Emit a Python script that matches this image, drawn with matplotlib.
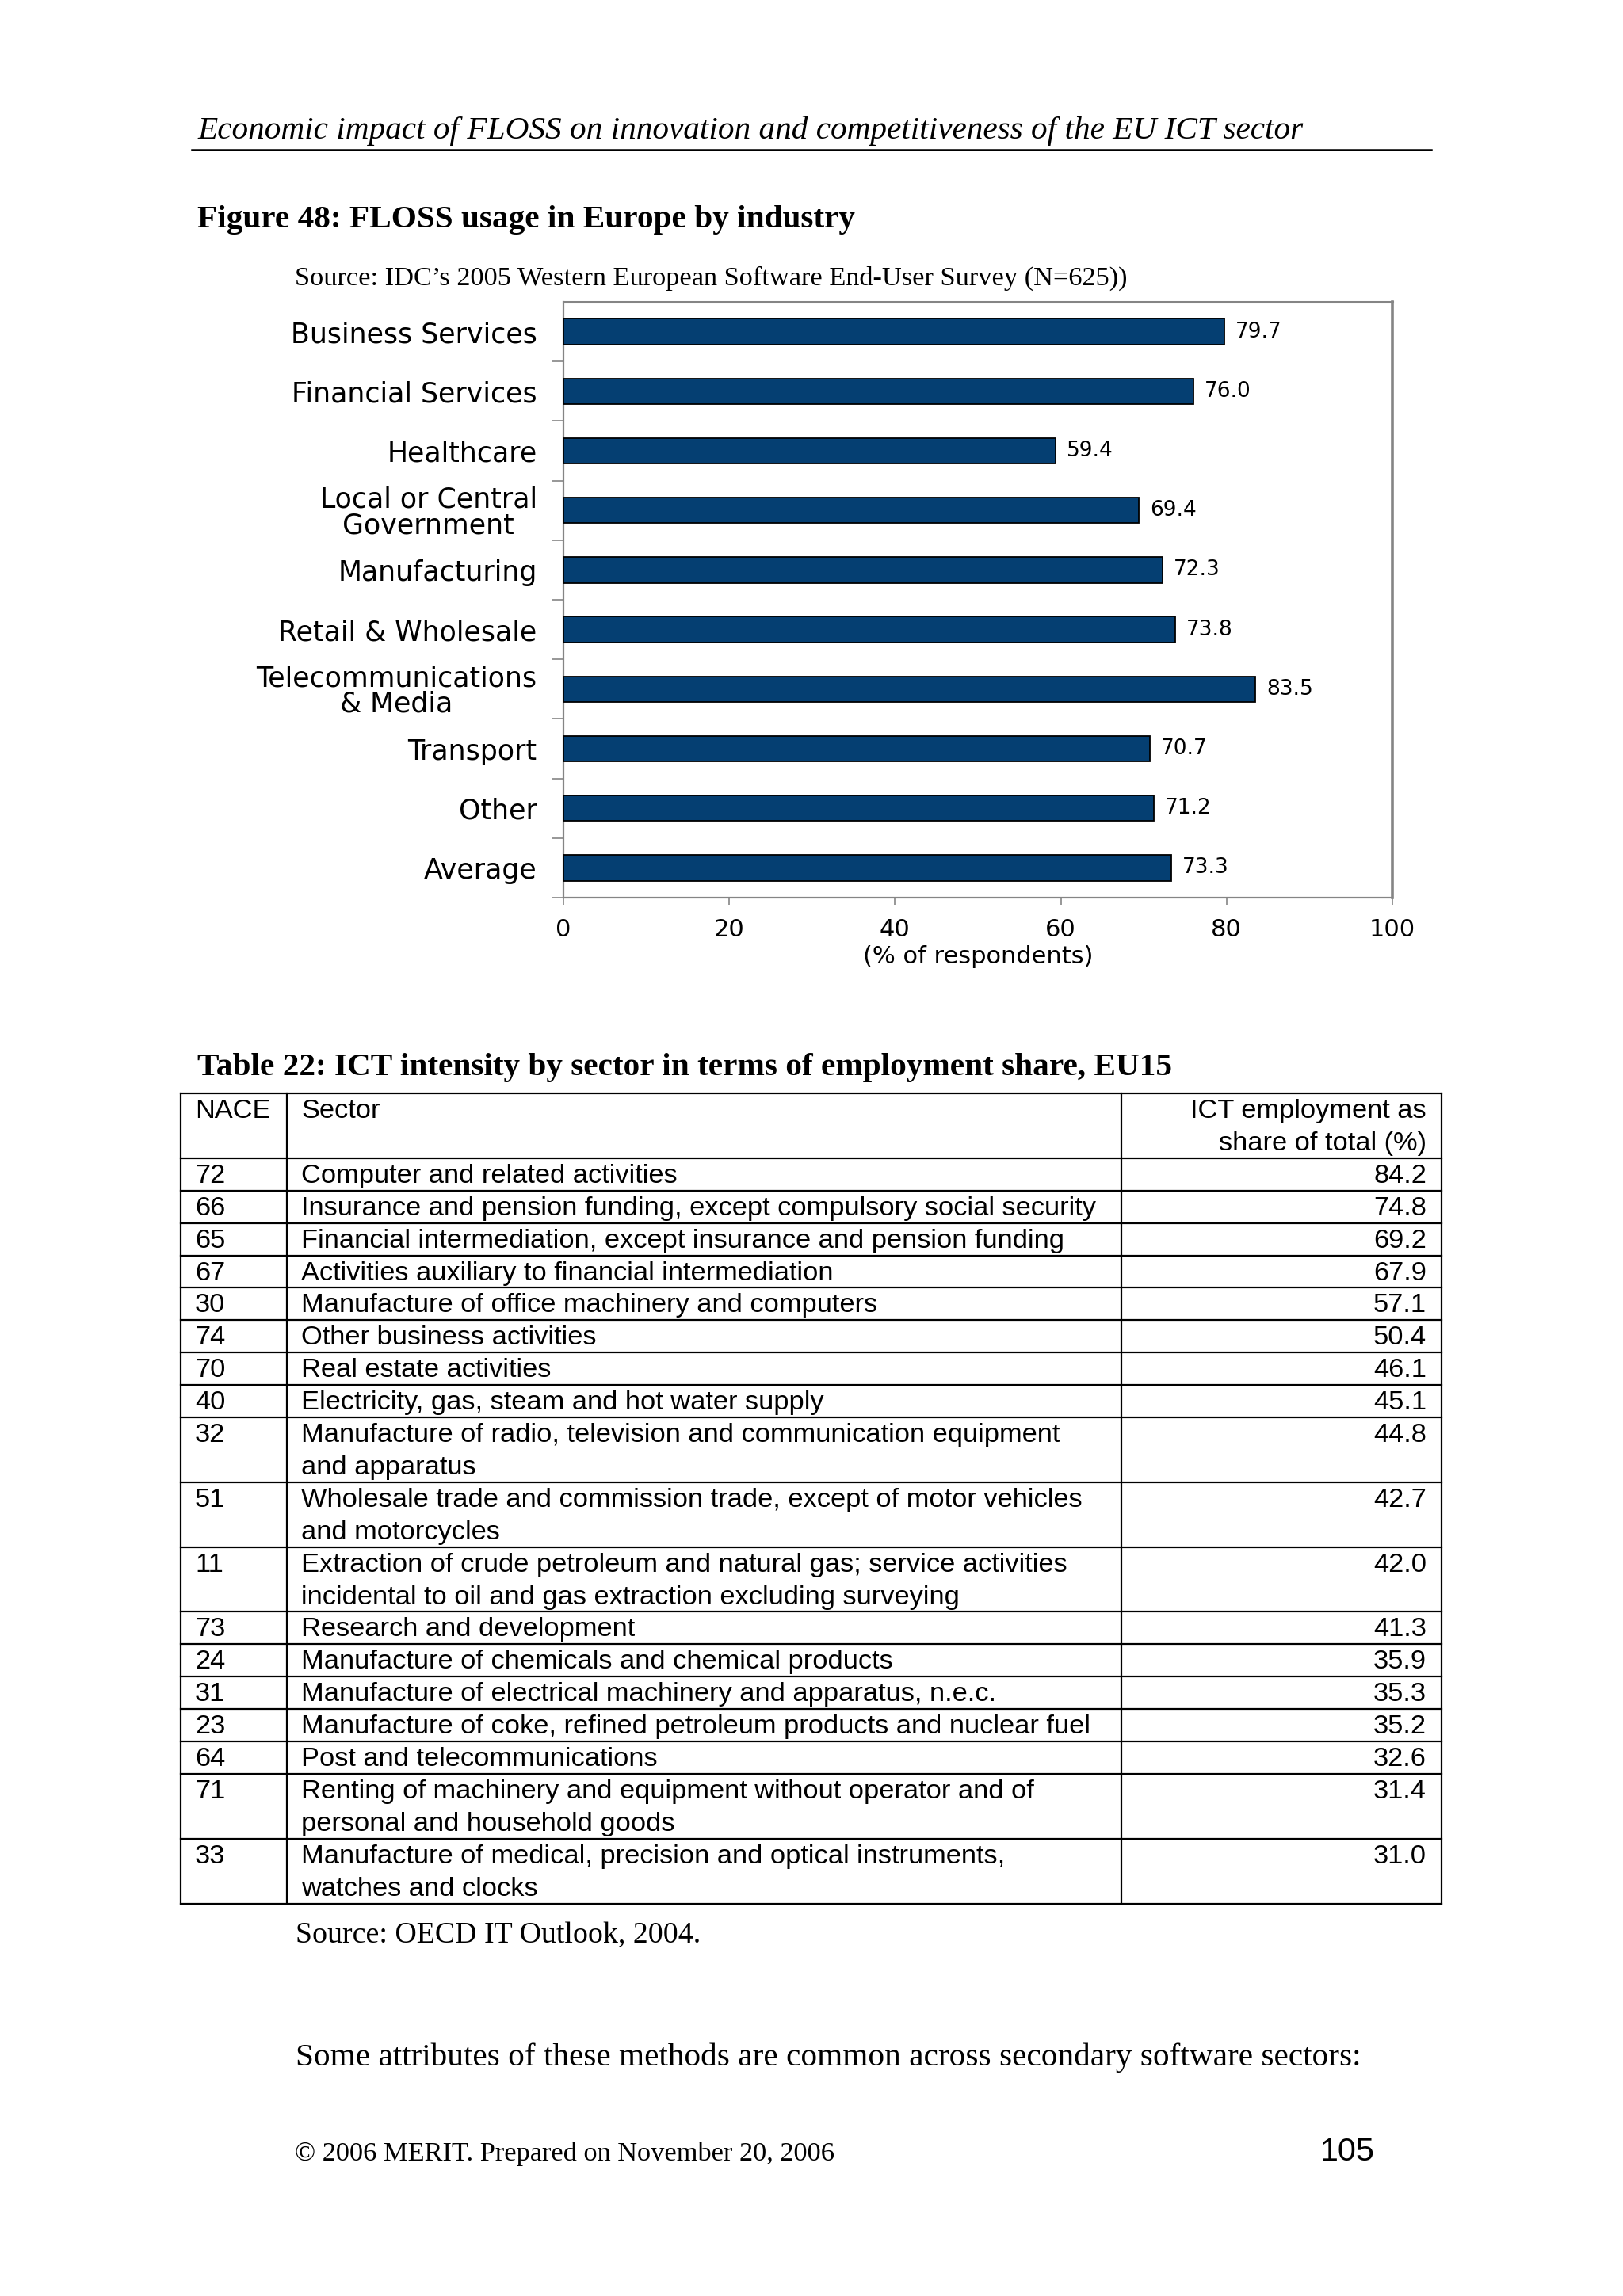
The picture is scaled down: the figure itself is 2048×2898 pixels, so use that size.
import matplotlib
matplotlib.use("Agg")
import matplotlib.pyplot as plt
from matplotlib.lines import Line2D

# ---------------- data ----------------
industries = ["Business Services", "Financial Services", "Healthcare",
              "Local or Central\nGovernment", "Manufacturing", "Retail & Wholesale",
              "Telecommunications\n& Media", "Transport", "Other", "Average"]
usage = [79.7, 76.0, 59.4, 69.4, 72.3, 73.8, 83.5, 70.7, 71.2, 73.3]
x_ticks = [0, 20, 40, 60, 80, 100]

nace_codes = ["72", "66", "65", "67", "30", "74", "70", "40", "32", "51", "11",
              "73", "24", "31", "23", "64", "71", "33"]
sectors = [
    "Computer and related activities",
    "Insurance and pension funding, except compulsory social security",
    "Financial intermediation, except insurance and pension funding",
    "Activities auxiliary to financial intermediation",
    "Manufacture of office machinery and computers",
    "Other business activities",
    "Real estate activities",
    "Electricity, gas, steam and hot water supply",
    "Manufacture of radio, television and communication equipment\nand apparatus",
    "Wholesale trade and commission trade, except of motor vehicles\nand motorcycles",
    "Extraction of crude petroleum and natural gas; service activities\nincidental to oil and gas extraction excluding surveying",
    "Research and development",
    "Manufacture of chemicals and chemical products",
    "Manufacture of electrical machinery and apparatus, n.e.c.",
    "Manufacture of coke, refined petroleum products and nuclear fuel",
    "Post and telecommunications",
    "Renting of machinery and equipment without operator and of\npersonal and household goods",
    "Manufacture of medical, precision and optical instruments,\nwatches and clocks",
]
ict_share = [84.2, 74.8, 69.2, 67.9, 57.1, 50.4, 46.1, 45.1, 44.8, 42.7, 42.0,
             41.3, 35.9, 35.3, 35.2, 32.6, 31.4, 31.0]
table_header = ["NACE", "Sector", "ICT employment as\nshare of total (%)"]

# ---------------- page ----------------
W, H = 2048, 2898
fig = plt.figure(figsize=(W / 100, H / 100), dpi=100)
fig.patch.set_facecolor("white")

page = fig.add_axes([0, 0, 1, 1])
page.set_xlim(0, W)
page.set_ylim(H, 0)
page.axis("off")

SERIF = "Liberation Serif"
SANS = "Liberation Sans"
CHART = "DejaVu Sans"
PT = 2.476  # original points -> figure points

page.text(249, 175, "Economic impact of FLOSS on innovation and competitiveness of the EU ICT sector",
          fontfamily=SERIF, fontstyle="italic", fontsize=12 * PT, va="baseline", ha="left")
page.add_line(Line2D([242, 1806], [189, 189], color="black", lw=1.8))

page.text(249, 287, "Figure 48: FLOSS usage in Europe by industry",
          fontfamily=SERIF, fontweight="bold", fontsize=12 * PT, va="baseline", ha="left")
page.text(372, 360, "Source: IDC\u2019s 2005 Western European Software End-User Survey (N=625))",
          fontfamily=SERIF, fontsize=10 * PT, va="baseline", ha="left")

# ---------------- bar chart ----------------
ax_l, ax_r, ax_t, ax_b = 711, 1757, 381, 1133
ax = fig.add_axes([ax_l / W, 1 - ax_b / H, (ax_r - ax_l) / W, (ax_b - ax_t) / H])
ypos = list(range(len(industries)))
ax.barh(ypos, usage, height=0.43, color="#053F72", edgecolor="black", linewidth=1.3, zorder=3)
ax.set_xlim(0, 100)
ax.set_ylim(len(industries) - 0.5, -0.5)
ax.set_facecolor("white")

for s in ax.spines.values():
    s.set_color("#858585")
    s.set_linewidth(1.6)
ax.spines["right"].set_linewidth(2.6)
ax.spines["top"].set_linewidth(2.2)

ax.set_xticks(x_ticks)
ax.set_xticklabels([str(t) for t in x_ticks], fontfamily=CHART, fontsize=22)
ax.tick_params(axis="x", which="major", direction="out", length=6.5, width=1.2,
               color="#858585", pad=12)

ax.set_yticks(ypos)
ax.set_yticklabels(industries, fontfamily=CHART, fontsize=25)
ax.tick_params(axis="y", which="major", length=0, pad=24)
for lab in ax.get_yticklabels():
    lab.set_multialignment("center")
    lab.set_linespacing(0.95)
ax.set_yticks([i + 0.5 for i in ypos], minor=True)
ax.tick_params(axis="y", which="minor", direction="out", length=10, width=1.2, color="#858585")

ax.set_xlabel("(% of respondents)", fontfamily=CHART, fontsize=22, labelpad=4)

for i, v in enumerate(usage):
    ax.annotate(f"{v:.1f}", (v, i), xytext=(10, 0), textcoords="offset points",
                va="center", ha="left", fontfamily=CHART, fontsize=19)

# ---------------- table ----------------
page.text(249, 1357, "Table 22: ICT intensity by sector in terms of employment share, EU15",
          fontfamily=SERIF, fontweight="bold", fontsize=12 * PT, va="baseline", ha="left")

tx = [228, 362, 1415, 1819]
t_top = 1380
line_h = 40.9
first_base = 31
tfs = 10 * PT
lw_t = 1.6

rows_y = [t_top]
hdr_lines = max(h.count("\n") + 1 for h in table_header)
y = t_top
for j, htxt in enumerate(table_header):
    for k, ln in enumerate(htxt.split("\n")):
        yb = y + first_base + k * line_h
        if j == 0:
            page.text(tx[0] + 18, yb, ln, fontfamily=SANS, fontsize=tfs, va="baseline", ha="left")
        elif j == 1:
            page.text(tx[1] + 18, yb, ln, fontfamily=SANS, fontsize=tfs, va="baseline", ha="left")
        else:
            page.text(tx[3] - 19, yb, ln, fontfamily=SANS, fontsize=tfs, va="baseline", ha="right")
y += hdr_lines * line_h
rows_y.append(y)

for code, sec, val in zip(nace_codes, sectors, ict_share):
    nl = sec.count("\n") + 1
    page.text(tx[0] + 18, y + first_base, code, fontfamily=SANS, fontsize=tfs, va="baseline", ha="left")
    for k, ln in enumerate(sec.split("\n")):
        page.text(tx[1] + 18, y + first_base + k * line_h, ln, fontfamily=SANS, fontsize=tfs,
                  va="baseline", ha="left")
    page.text(tx[3] - 19, y + first_base, f"{val:.1f}", fontfamily=SANS, fontsize=tfs,
              va="baseline", ha="right")
    y += nl * line_h
    rows_y.append(y)

for yy in rows_y:
    page.add_line(Line2D([tx[0], tx[3]], [yy, yy], color="black", lw=lw_t))
for xx in tx:
    page.add_line(Line2D([xx, xx], [rows_y[0], rows_y[-1]], color="black", lw=lw_t))

page.text(373, 2452, "Source: OECD IT Outlook, 2004.",
          fontfamily=SERIF, fontsize=11 * PT, va="baseline", ha="left")
page.text(373, 2607, "Some attributes of these methods are common across secondary software sectors:",
          fontfamily=SERIF, fontsize=12 * PT, va="baseline", ha="left")

# ---------------- footer ----------------
page.text(372, 2727, "\u00a9 2006 MERIT. Prepared on November 20, 2006",
          fontfamily=SERIF, fontsize=10 * PT, va="baseline", ha="left")
page.text(1735, 2727, "105", fontfamily=SANS, fontsize=12 * PT, va="baseline", ha="right")

fig.savefig("out.png", dpi=100, facecolor="white")
